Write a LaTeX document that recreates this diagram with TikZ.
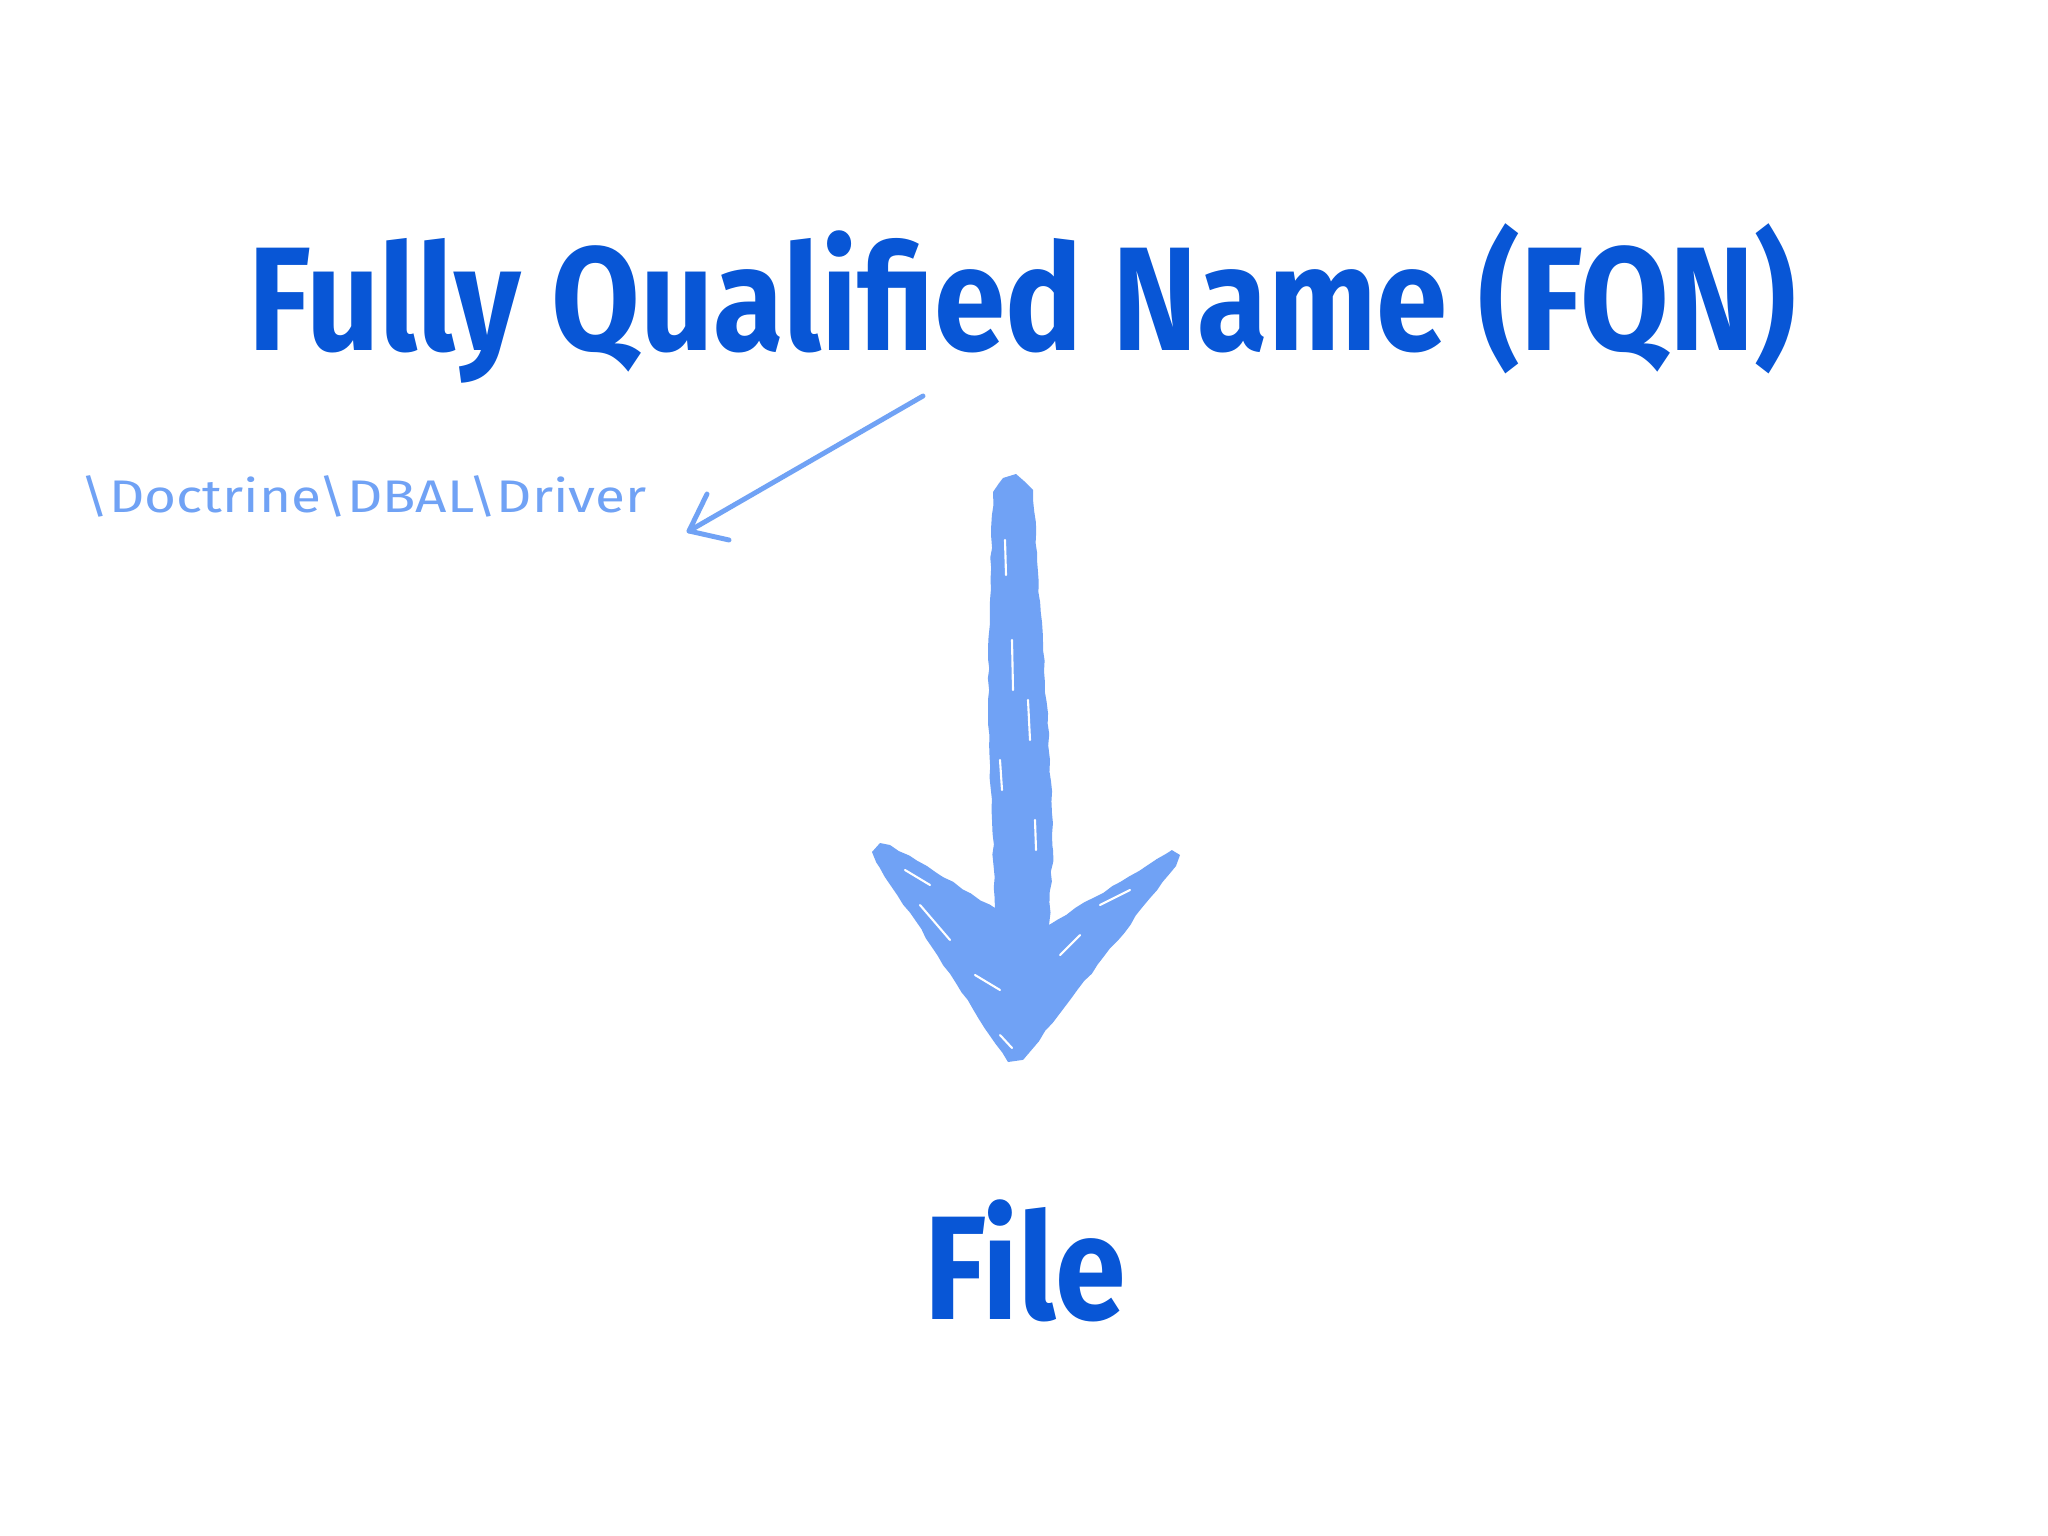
\documentclass[tikz,border=0pt]{standalone}
\usepackage{fontspec}
\usepackage{graphicx}
\setmainfont{Fira Sans}
\newfontfamily\titlefont{Fira Sans}
\usetikzlibrary{decorations.pathmorphing}
\definecolor{titleblue}{RGB}{8,86,214}
\definecolor{lightblue}{RGB}{112,162,245}
\tikzset{
  titletext/.style={anchor=base, text=titleblue, inner sep=0pt, font=\titlefont\bfseries\fontsize{42}{50}\selectfont},
  pathtext/.style={anchor=base west, text=lightblue, inner sep=0pt, font=\fontsize{13}{16}\selectfont},
  thinarrow/.style={draw=lightblue, line width=1.4pt, line cap=round, line join=round},
  brush/.style={fill=lightblue, draw=none, decorate, decoration={random steps, segment length=3pt, amplitude=0.3pt}},
  streak/.style={draw=white, line width=0.6pt, line cap=round}
}
\begin{document}
\begin{tikzpicture}[x=0.01cm, y=-0.01cm]
\pgfmathsetseed{7}
\useasboundingbox (0,0) rectangle (2048,1536);
\fill[white] (0,0) rectangle (2048,1536);

% title
\node[titletext] (fqn) at (1022,350) {\scalebox{0.87}[1]{Fully Qualified Name (FQN)}};

% path text
\node[pathtext] (ns) at (80,512) {\scalebox{1.2}[1]{\textbackslash Doctrine\textbackslash DBAL\textbackslash Driver}};

% thin arrow
\coordinate (as) at (923,396);
\coordinate (at) at (689,531);
\coordinate (ab1) at (707,494);
\coordinate (ab2) at (729,540);
\draw[thinarrow] (as) -- (at);
\draw[thinarrow] (ab1) -- (at) -- (ab2);

% big brush arrow
\fill[brush]
  (993,492) -- (1003,478) -- (1016,474) -- (1024,481) -- (1033,490)
  -- (1037,560) -- (1043,650) -- (1050,760) -- (1053,850) -- (1049,925)
  -- (1172,850) -- (1180,855) -- (1176,866)
  -- (1023,1060) -- (1008,1062)
  -- (876,862) -- (872,852) -- (880,843) -- (890,845)
  -- (995,908) -- (992,820) -- (988,700) -- (990,600) -- cycle;
% brush streaks
\draw[streak] (1005,540) -- (1006,575);
\draw[streak] (1012,640) -- (1013,690);
\draw[streak] (1028,700) -- (1030,740);
\draw[streak] (1000,760) -- (1002,790);
\draw[streak] (1035,820) -- (1036,850);
\draw[streak] (905,870) -- (930,885);
\draw[streak] (920,905) -- (950,940);
\draw[streak] (975,975) -- (1000,990);
\draw[streak] (1000,1035) -- (1012,1048);
\draw[streak] (1100,905) -- (1130,890);
\draw[streak] (1080,935) -- (1060,955);
\draw[streak] (960,1010) -- (985,1040);

% bottom text
\node[titletext] (file) at (1025,1319) {\scalebox{0.863}[1]{File}};
\end{tikzpicture}
\end{document}
